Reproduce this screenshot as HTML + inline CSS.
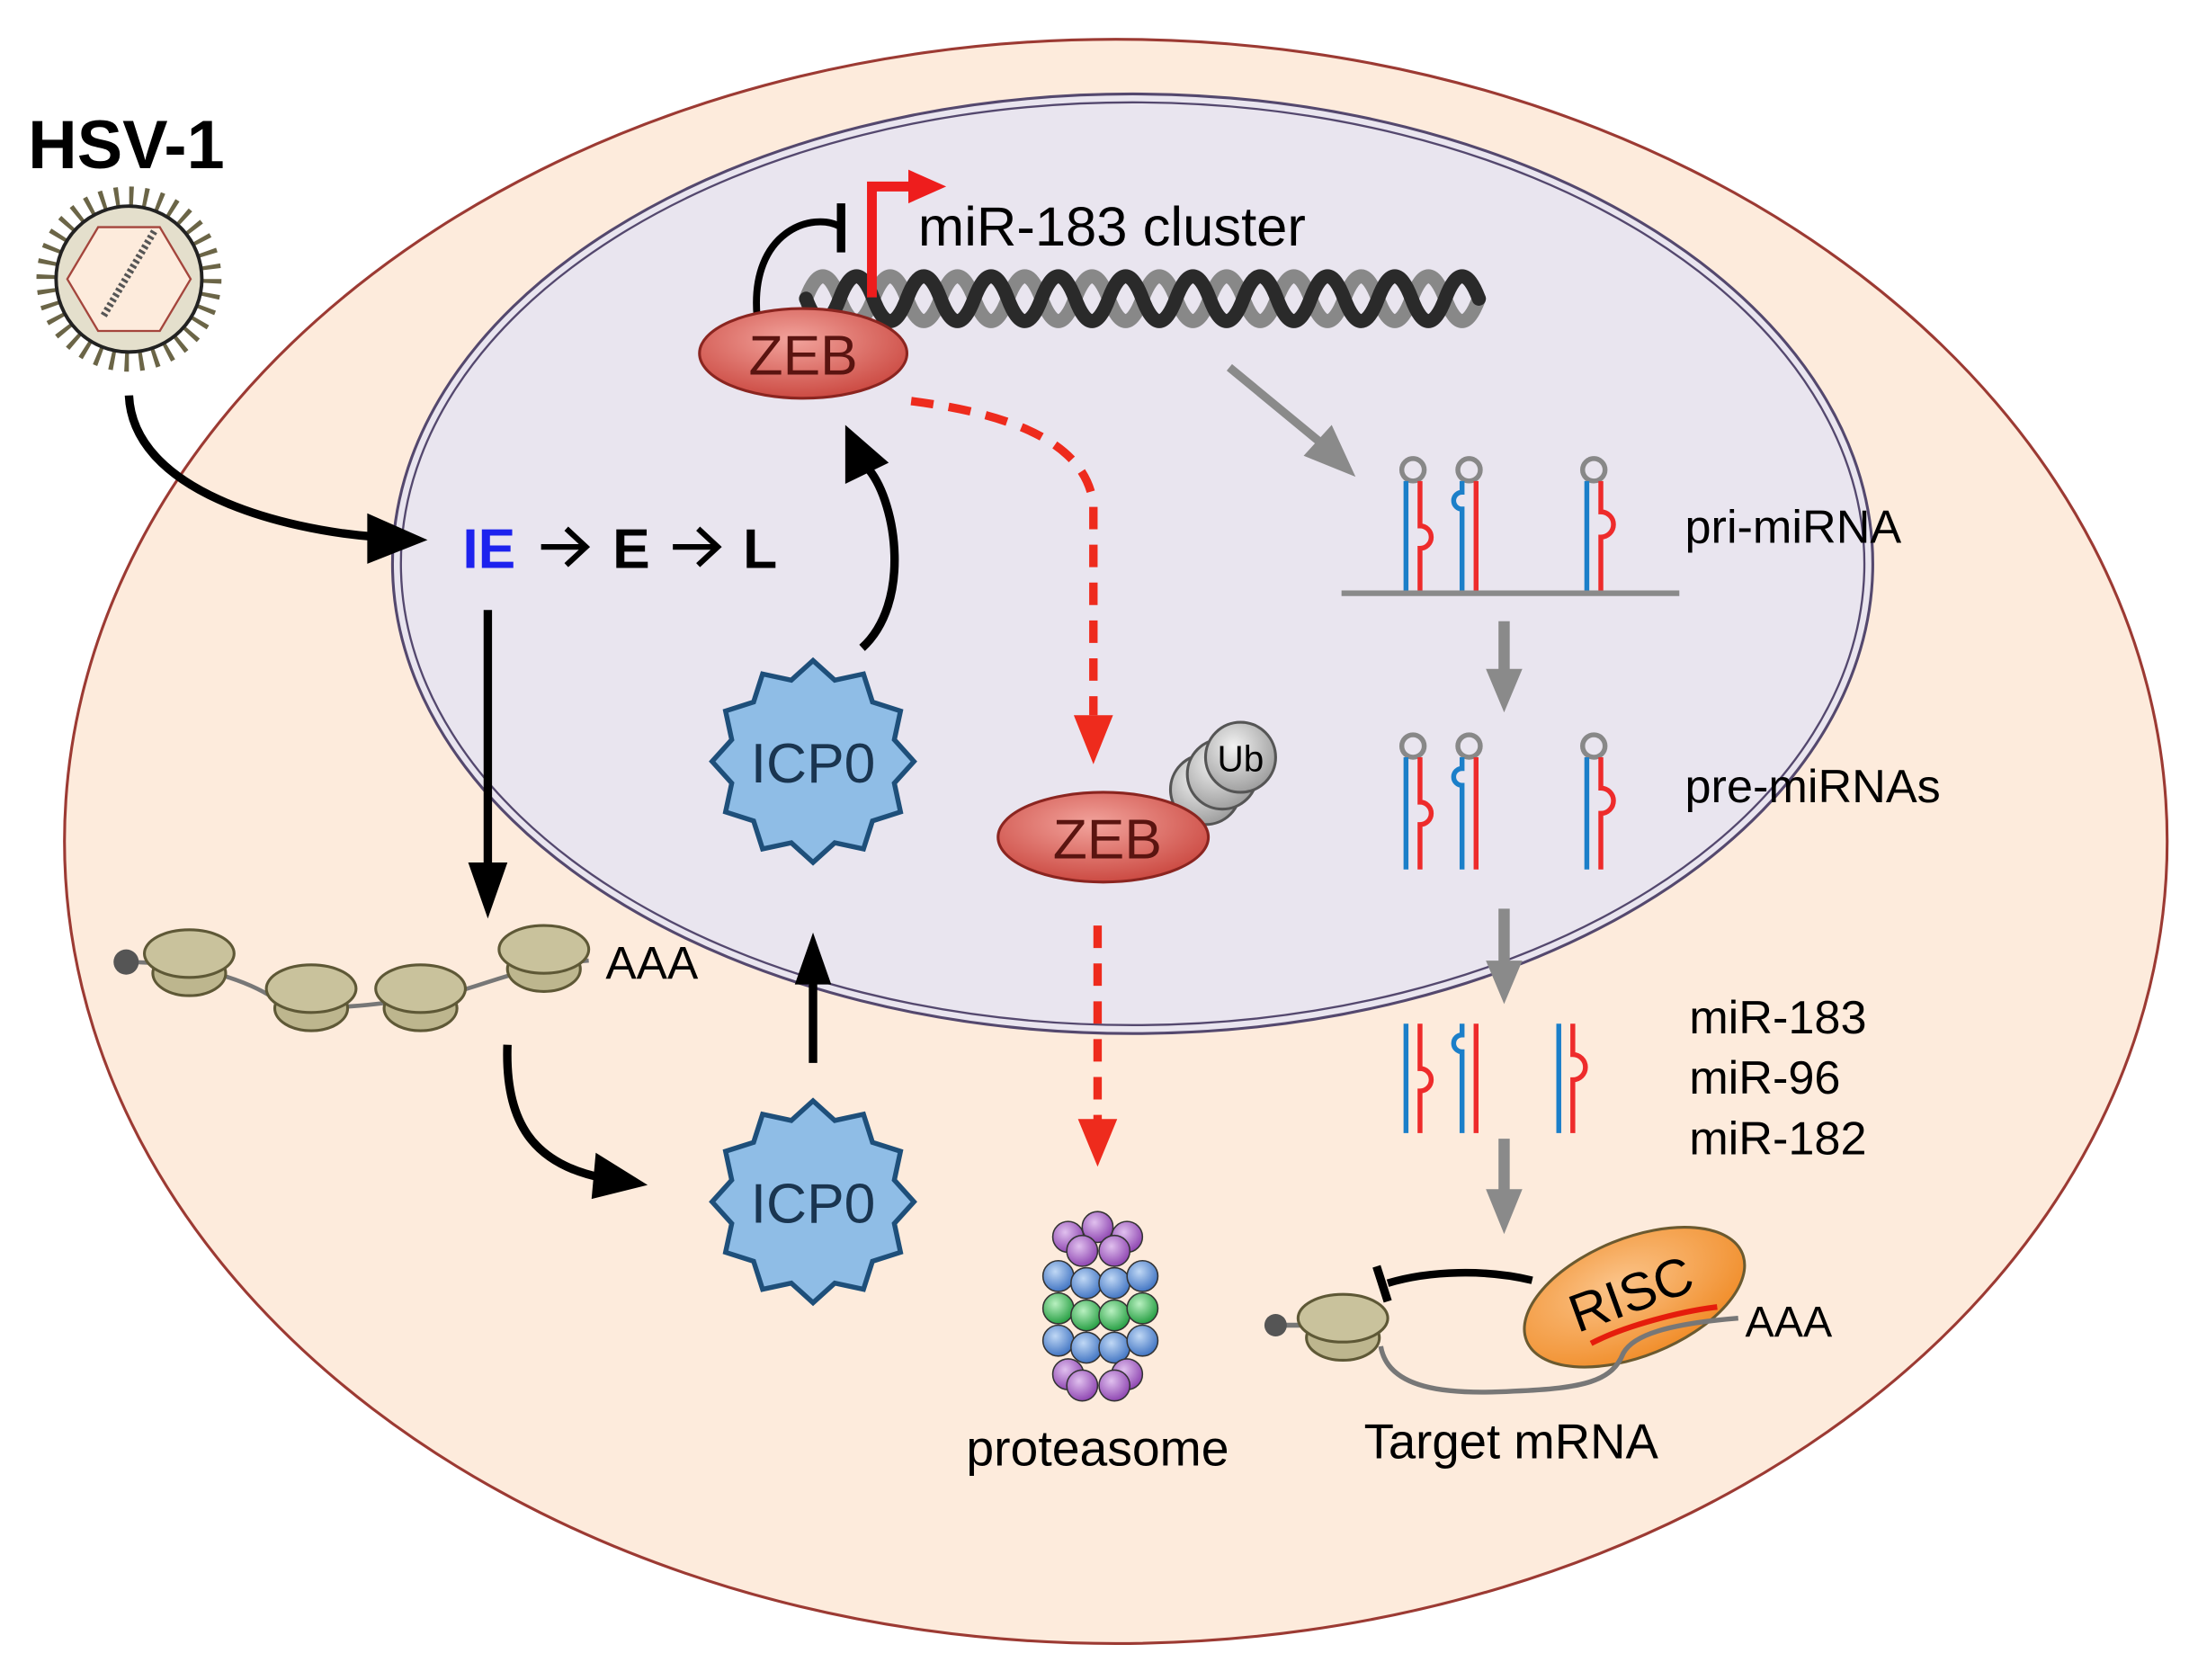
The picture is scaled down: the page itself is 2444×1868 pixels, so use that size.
<!DOCTYPE html>
<html><head><meta charset="utf-8"><style>html,body{margin:0;padding:0;background:#fff}svg{display:block}text{font-family:"Liberation Sans",sans-serif}</style></head><body>
<svg width="2444" height="1868" viewBox="0 0 1568 1198" preserveAspectRatio="none" xmlns="http://www.w3.org/2000/svg">
<defs>
<radialGradient id="zeb" cx="0.45" cy="0.35" r="0.7"><stop offset="0" stop-color="#f2a39c"/><stop offset="1" stop-color="#c9443c"/></radialGradient>
<radialGradient id="risc" cx="0.45" cy="0.35" r="0.7"><stop offset="0" stop-color="#fbc48a"/><stop offset="1" stop-color="#f08a24"/></radialGradient>
<radialGradient id="ub" cx="0.4" cy="0.35" r="0.7"><stop offset="0" stop-color="#f2f2f2"/><stop offset="1" stop-color="#9a9a9a"/></radialGradient>
<radialGradient id="pu" cx="0.4" cy="0.35" r="0.7"><stop offset="0" stop-color="#e0c0ee"/><stop offset="1" stop-color="#8a3fae"/></radialGradient>
<radialGradient id="bl" cx="0.4" cy="0.35" r="0.7"><stop offset="0" stop-color="#c0d8f5"/><stop offset="1" stop-color="#3a6fc0"/></radialGradient>
<radialGradient id="gr" cx="0.4" cy="0.35" r="0.7"><stop offset="0" stop-color="#b8f0c0"/><stop offset="1" stop-color="#1e9a3c"/></radialGradient>
<g id="ribo"><ellipse cx="0" cy="14" rx="26" ry="16" fill="#bdb68e" stroke="#5e5836" stroke-width="2"/><ellipse cx="0" cy="0" rx="32" ry="17" fill="#c9c29c" stroke="#5e5836" stroke-width="2"/></g>
<polygon id="star" points="72,0 58,15.5 62.4,36 42.4,42.4 36,62.4 15.5,58 0,72 -15.5,58 -36,62.4 -42.4,42.4 -62.4,36 -58,15.5 -72,0 -58,-15.5 -62.4,-36 -42.4,-42.4 -36,-62.4 -15.5,-58 0,-72 15.5,-58 36,-62.4 42.4,-42.4 62.4,-36 58,-15.5" fill="#8fbde6" stroke="#1e4f7a" stroke-width="3.5"/>
<g id="hpA" fill="none" stroke-width="3.5"><circle cx="0" cy="0" r="8" stroke="#888"/><path d="M-5,8 V88" stroke="#1b7fc9"/><path d="M5,8 V40 a8,8 0 1 1 0,16 V88" stroke="#ee2b2b"/></g>
<g id="hpB" fill="none" stroke-width="3.5"><circle cx="0" cy="0" r="8" stroke="#888"/><path d="M-5,8 V16 a6,6 0 1 0 0,12 V88" stroke="#1b7fc9"/><path d="M5,8 V88" stroke="#ee2b2b"/></g>
<g id="hpC" fill="none" stroke-width="3.5"><circle cx="0" cy="0" r="8" stroke="#888"/><path d="M-5,8 V88" stroke="#1b7fc9"/><path d="M5,8 V30 a9,9 0 1 1 0,18 V88" stroke="#ee2b2b"/></g>
<g id="mA" fill="none" stroke-width="3.5"><path d="M-5,8 V86" stroke="#1b7fc9"/><path d="M5,8 V40 a8,8 0 1 1 0,16 V86" stroke="#ee2b2b"/></g>
<g id="mB" fill="none" stroke-width="3.5"><path d="M-5,8 V16 a6,6 0 1 0 0,12 V86" stroke="#1b7fc9"/><path d="M5,8 V86" stroke="#ee2b2b"/></g>
<g id="mC" fill="none" stroke-width="3.5"><path d="M-5,8 V86" stroke="#1b7fc9"/><path d="M5,8 V30 a9,9 0 1 1 0,18 V86" stroke="#ee2b2b"/></g>
</defs>
<rect width="1568" height="1198" fill="#fff"/>
<ellipse cx="796" cy="600" rx="750" ry="572" fill="#fdebdc" stroke="#9c3a33" stroke-width="2"/>
<ellipse cx="808" cy="402" rx="528" ry="335" fill="#e9e5ef" stroke="#54486e" stroke-width="2"/>
<ellipse cx="808" cy="402" rx="522" ry="329" fill="none" stroke="#54486e" stroke-width="1.5"/>

<text x="20" y="120" font-size="48.5" font-weight="bold">HSV-1</text>
<circle cx="92" cy="199" r="59" fill="none" stroke="#6b6547" stroke-width="14" stroke-dasharray="3 7.3"/>
<circle cx="92" cy="199" r="52" fill="#e4dfcc" stroke="#222" stroke-width="2.5"/>
<polygon points="70,162 114,162 136,199 114,236 70,236 48,199" fill="#fdebdc" stroke="#a4453c" stroke-width="1.5"/>
<path d="M74,225 L110,165" stroke="#555" stroke-width="5" stroke-dasharray="2 2"/>

<path d="M92,282 C95,350 200,378 270,383" fill="none" stroke="#000" stroke-width="6"/>
<path d="M262,366 L305,385 L262,402z"/>
<text x="330" y="405" font-size="40" font-weight="bold" fill="#1d22ee">IE</text>
<path d="M386,390 H416 M404,377 L418,390 L404,403" fill="none" stroke="#000" stroke-width="4"/>
<text x="437" y="405" font-size="40" font-weight="bold">E</text>
<path d="M480,390 H510 M498,377 L512,390 L498,403" fill="none" stroke="#000" stroke-width="4"/>
<text x="530" y="405" font-size="40" font-weight="bold">L</text>
<path d="M348,435 V620" stroke="#000" stroke-width="6"/>
<path d="M334,615 L348,655 L362,615z"/>

<path d="M90,686 C140,686 180,700 200,715 C230,722 270,716 300,712 C340,708 360,690 420,685" fill="none" stroke="#777" stroke-width="3"/>
<circle cx="90" cy="686" r="9" fill="#555"/>
<use href="#ribo" x="135" y="680"/><use href="#ribo" x="222" y="705"/><use href="#ribo" x="300" y="705"/><use href="#ribo" x="388" y="677"/>
<text x="432" y="698" font-size="33">AAA</text>
<path d="M362,745 C360,800 380,830 430,840" fill="none" stroke="#000" stroke-width="6"/>
<path d="M425,822 L462,845 L422,855z"/>

<use href="#star" x="580" y="857"/>
<text x="580" y="872" font-size="40" text-anchor="middle" fill="#1a3550">ICP0</text>
<path d="M580,758 V700" stroke="#000" stroke-width="6"/>
<path d="M567,702 L580,665 L593,702z"/>
<use href="#star" x="580" y="543"/>
<text x="580" y="558" font-size="40" text-anchor="middle" fill="#1a3550">ICP0</text>
<path d="M615,462 C650,430 640,360 620,335" fill="none" stroke="#000" stroke-width="6"/>
<path d="M603,345 L603,303 L634,330z"/>

<g fill="none" stroke-linecap="round">
<path d="M575,213 Q587,181 599,213 T623,213 T647,213 T671,213 T695,213 T719,213 T743,213 T767,213 T791,213 T815,213 T839,213 T863,213 T887,213 T911,213 T935,213 T959,213 T983,213 T1007,213 T1031,213 T1055,213" stroke="#888" stroke-width="10"/>
<path d="M575,213 Q587,245 599,213 T623,213 T647,213 T671,213 T695,213 T719,213 T743,213 T767,213 T791,213 T815,213 T839,213 T863,213 T887,213 T911,213 T935,213 T959,213 T983,213 T1007,213 T1031,213 T1055,213" stroke="#2a2a2a" stroke-width="10"/>
</g>
<path d="M540,225 C535,165 580,150 600,162" fill="none" stroke="#000" stroke-width="5"/>
<path d="M600,145 V180" stroke="#000" stroke-width="6"/>
<path d="M622,212 V133 H650" fill="none" stroke="#ee1d1d" stroke-width="7"/>
<path d="M648,121 L675,133 L648,145z" fill="#ee1d1d"/>
<text x="655" y="175" font-size="39.5">miR-183 cluster</text>

<ellipse cx="573" cy="252" rx="74" ry="32" fill="url(#zeb)" stroke="#8b2520" stroke-width="2"/>
<text x="573" y="267" font-size="40" text-anchor="middle" fill="#5a1410">ZEB</text>
<path d="M650,286 C720,295 775,315 780,360 V510" fill="none" stroke="#ee2b1d" stroke-width="6" stroke-dasharray="16 11"/>
<path d="M766,510 L780,545 L794,510z" fill="#ee2b1d"/>
<circle cx="860" cy="563" r="25" fill="url(#ub)" stroke="#555" stroke-width="2"/>
<circle cx="872" cy="552" r="25" fill="url(#ub)" stroke="#555" stroke-width="2"/>
<circle cx="885" cy="540" r="25" fill="url(#ub)" stroke="#555" stroke-width="2"/>
<text x="885" y="550" font-size="26" text-anchor="middle">Ub</text>
<ellipse cx="787" cy="597" rx="75" ry="32" fill="url(#zeb)" stroke="#8b2520" stroke-width="2"/>
<text x="790" y="612" font-size="40" text-anchor="middle" fill="#5a1410">ZEB</text>
<path d="M783,660 V800" stroke="#ee2b1d" stroke-width="6" stroke-dasharray="16 11"/>
<path d="M769,798 L783,832 L797,798z" fill="#ee2b1d"/>

<g stroke="#333" stroke-width="1">
<g fill="url(#pu)"><circle cx="762" cy="882" r="11"/><circle cx="783" cy="875" r="11"/><circle cx="804" cy="882" r="11"/><circle cx="772" cy="892" r="11"/><circle cx="795" cy="892" r="11"/></g>
<g fill="url(#bl)"><circle cx="755" cy="910" r="11"/><circle cx="775" cy="915" r="11"/><circle cx="795" cy="915" r="11"/><circle cx="815" cy="910" r="11"/></g>
<g fill="url(#gr)"><circle cx="755" cy="933" r="11"/><circle cx="775" cy="938" r="11"/><circle cx="795" cy="938" r="11"/><circle cx="815" cy="933" r="11"/></g>
<g fill="url(#bl)"><circle cx="755" cy="956" r="11"/><circle cx="775" cy="961" r="11"/><circle cx="795" cy="961" r="11"/><circle cx="815" cy="956" r="11"/></g>
<g fill="url(#pu)"><circle cx="762" cy="980" r="11"/><circle cx="804" cy="980" r="11"/><circle cx="772" cy="988" r="11"/><circle cx="795" cy="988" r="11"/></g>
</g>
<text x="783" y="1045" font-size="35.5" text-anchor="middle">proteasome</text>

<path d="M877,262 L945,318" stroke="#8a8a8a" stroke-width="6"/>
<path d="M930,325 L967,340 L950,303z" fill="#8a8a8a"/>
<use href="#hpA" x="1008" y="335"/><use href="#hpB" x="1048" y="335"/><use href="#hpC" x="1137" y="335"/>
<path d="M957,423 H1198" stroke="#8a8a8a" stroke-width="4"/>
<text x="1202" y="387" font-size="33.5">pri-miRNA</text>
<path d="M1073,443 V480" stroke="#8a8a8a" stroke-width="8"/>
<path d="M1060,477 L1073,508 L1086,477z" fill="#8a8a8a"/>
<use href="#hpA" x="1008" y="532"/><use href="#hpB" x="1048" y="532"/><use href="#hpC" x="1137" y="532"/>
<text x="1202" y="572" font-size="33.5">pre-miRNAs</text>
<path d="M1073,648 V688" stroke="#8a8a8a" stroke-width="8"/>
<path d="M1060,685 L1073,716 L1086,685z" fill="#8a8a8a"/>
<use href="#mA" x="1008" y="722"/><use href="#mB" x="1048" y="722"/><use href="#mC" x="1117" y="722"/>
<text x="1205" y="737" font-size="33.5">miR-183</text>
<text x="1205" y="780" font-size="33.5">miR-96</text>
<text x="1205" y="823" font-size="33.5">miR-182</text>
<path d="M1073,812 V850" stroke="#8a8a8a" stroke-width="8"/>
<path d="M1060,848 L1073,880 L1086,848z" fill="#8a8a8a"/>

<ellipse cx="1166" cy="925" rx="83" ry="42" transform="rotate(-22 1166 925)" fill="url(#risc)" stroke="#6b5a30" stroke-width="2"/>
<text x="1168" y="935" font-size="38" text-anchor="middle" transform="rotate(-20 1168 935)">RISC</text>
<path d="M1135,958 C1160,945 1200,935 1225,932" fill="none" stroke="#e51c0c" stroke-width="4"/>
<path d="M910,945 H935 M985,960 C990,990 1030,995 1080,992 C1130,990 1150,985 1158,965 C1165,952 1190,944 1240,940" fill="none" stroke="#777" stroke-width="3.5"/>
<circle cx="910" cy="945" r="8" fill="#555"/>
<use href="#ribo" x="958" y="940"/>
<text x="1245" y="953" font-size="31">AAA</text>
<path d="M1093,913 C1060,905 1020,906 990,915" fill="none" stroke="#000" stroke-width="5.5"/>
<path d="M982,903 L990,928" stroke="#000" stroke-width="6"/>
<text x="1078" y="1040" font-size="35" text-anchor="middle">Target mRNA</text>
</svg>
</body></html>
